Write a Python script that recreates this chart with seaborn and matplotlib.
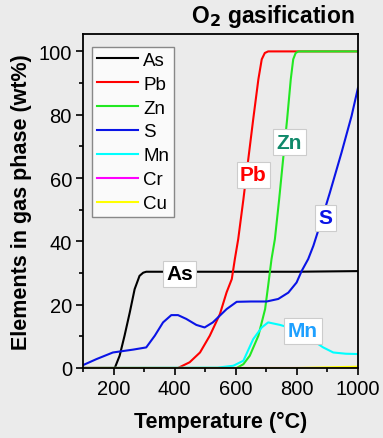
import pandas as pd
import matplotlib
matplotlib.use('Agg')
import matplotlib.pyplot as plt
import seaborn as sns
from matplotlib.ticker import MultipleLocator

# values
elements = ['As', 'Pb', 'Zn', 'S', 'Mn', 'Cr', 'Cu']
colors = ['black', 'red', '#22e822', '#0a14e6', 'cyan', 'magenta', 'yellow']

as_t = [100, 204, 220, 236, 253, 269, 285, 297, 307, 500, 800, 1000]
as_v = [0, 0, 3.9, 10.2, 17.5, 24.9, 29.1, 30.1, 30.4, 30.4, 30.4, 30.6]

pb_t = [100, 411, 449, 483, 515, 548, 570, 587, 597, 608, 625, 641, 657, 674, 685, 695, 706, 1000]
pb_v = [0, 0, 1.8, 4.9, 10.2, 17, 23.9, 28.1, 34.4, 40.7, 53.3, 66, 78.5, 91.2, 97.5, 99.5, 100, 100]

zn_t = [100, 603, 625, 646, 674, 696, 706, 717, 728, 742, 755, 768, 780, 788, 796, 805, 1000]
zn_v = [0, 0, 1.2, 3.9, 10.2, 18.6, 26, 34.4, 40.7, 53.3, 66, 78.5, 91.2, 97.5, 99.5, 100, 100]

s_t = [100, 144, 198, 264, 307, 335, 362, 389, 411, 438, 471, 498, 525, 570, 603,
       650, 701, 739, 772, 799, 816, 837, 854, 880, 908, 946, 979, 1000]
s_v = [0.9, 2.8, 4.9, 5.8, 6.5, 10.2, 14.4, 16.7, 16.7, 15.5, 13.6, 12.8, 14.4, 18.6, 20.9,
       21.0, 21.0, 21.8, 23.8, 27, 30.7, 34.4, 38.6, 46.5, 55.4, 68, 79.6, 88.5]

mn_t = [100, 540, 592, 625, 657, 685, 706, 745, 780, 820, 860, 886, 919, 960, 1000]
mn_v = [0, 0.1, 0.7, 2.3, 9.1, 12.8, 14.4, 13.6, 12.6, 10.5, 8.2, 6.5, 4.9, 4.5, 4.4]

cr_t = [100, 1000]
cr_v = [0, 0]

cu_t = [100, 800, 1000]
cu_v = [0, 0, 0.4]

series = {'As': (as_t, as_v), 'Pb': (pb_t, pb_v), 'Zn': (zn_t, zn_v),
          'S': (s_t, s_v), 'Mn': (mn_t, mn_v), 'Cr': (cr_t, cr_v), 'Cu': (cu_t, cu_v)}

rows = []
for el, (t, v) in series.items():
    for ti, vi in zip(t, v):
        rows.append({'Element': el, 'T': ti, 'wt': vi})
df = pd.DataFrame(rows)

# labels placed on the curves
label_text = ['As', 'Pb', 'Zn', 'S', 'Mn']
label_t = [416, 658, 776, 895, 820]
label_v = [29.8, 61, 71.3, 47.5, 11.8]
label_colors = ['black', 'red', '#10896a', '#0a14e6', '#1ea0ff']

bg = '#ebebeb'
plt.rcParams['font.family'] = ['Liberation Sans', 'DejaVu Sans']

fig = plt.figure(figsize=(3.83, 4.39), dpi=100, facecolor=bg)
ax = fig.add_axes([0.2167, 0.1595, 0.718, 0.7608])
ax.set_facecolor(bg)

sns.lineplot(data=df, x='T', y='wt', hue='Element', hue_order=elements,
             palette=dict(zip(elements, colors)), linewidth=1.5, ax=ax,
             sort=False, estimator=None)

for txt, t, v, c in zip(label_text, label_t, label_v, label_colors):
    ax.text(t, v, txt, color=c, fontsize=15, fontweight='bold', ha='center', va='center',
            bbox=dict(boxstyle='square,pad=0.17', fc='white', ec='#cccccc', lw=0.8))

ax.set_xlim(100, 1000)
ax.set_ylim(0, 105.5)
ax.xaxis.set_major_locator(MultipleLocator(200))
ax.xaxis.set_minor_locator(MultipleLocator(100))
ax.yaxis.set_major_locator(MultipleLocator(20))
ax.yaxis.set_minor_locator(MultipleLocator(10))
ax.tick_params(which='major', direction='out', length=5, width=1.2, labelsize=14.5,
               colors='black', pad=3)
ax.tick_params(which='minor', direction='out', length=3, width=1.2)
for sp in ax.spines.values():
    sp.set_linewidth(1.3)
    sp.set_color('black')

ax.set_xlabel('Temperature (°C)', fontsize=15.5, fontweight='bold', labelpad=9)
ax.set_ylabel('Elements in gas phase (wt%)', fontsize=15.5, fontweight='bold', labelpad=5)

leg = ax.legend(loc='upper left', bbox_to_anchor=(0.033, 0.961), fontsize=13.5,
                handlelength=2.2, labelspacing=0.36, handletextpad=0.27,
                borderpad=0.25, fancybox=False, framealpha=1, title=None,
                borderaxespad=0)
leg.get_frame().set_edgecolor('#888888')
leg.get_frame().set_facecolor('#fafafa')
leg.get_frame().set_linewidth(1.0)

fig.text(0.927, 0.962, 'O$_\\mathbf{2}$ gasification', ha='right', va='center',
         fontsize=16.5, fontweight='bold')

fig.savefig('out.png', dpi=100, facecolor=bg)
